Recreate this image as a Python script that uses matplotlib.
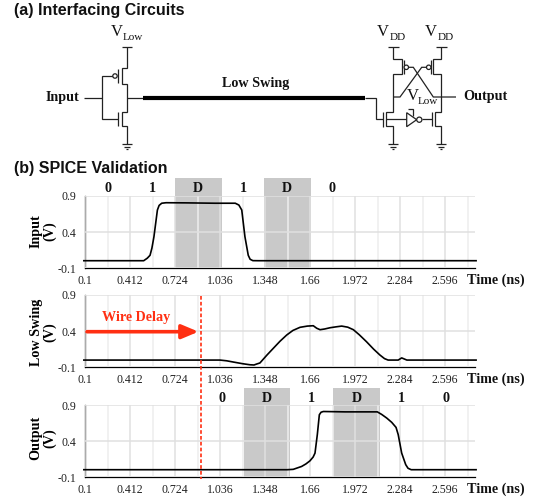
import matplotlib
matplotlib.use("Agg")
import matplotlib.pyplot as plt
from matplotlib.patches import Circle, Polygon

# Waveforms (time in ns, voltage in V)
input_t = [0.09, 0.505, 0.53, 0.549, 0.562, 0.576, 0.6, 0.612, 0.63, 0.66, 0.8, 1.0, 1.14, 1.165, 1.185, 1.207, 1.23,
           1.243, 1.262, 1.3, 1.6, 2.0, 2.4, 2.81]
input_v = [0.005, 0.005, 0.04, 0.08, 0.18, 0.337, 0.706, 0.77, 0.8, 0.807, 0.805, 0.8, 0.8, 0.775, 0.706, 0.337, 0.08,
           0.025, 0.006, 0.005, 0.005, 0.005, 0.005, 0.005]

swing_t = [0.09, 0.5, 1.034, 1.08, 1.126, 1.19, 1.242, 1.27, 1.288, 1.311, 1.36, 1.404, 1.45, 1.497, 1.54, 1.589, 1.64,
           1.681, 1.705, 1.728, 1.76, 1.797, 1.84, 1.878, 1.92, 1.959, 2.0, 2.05, 2.1, 2.143, 2.175, 2.2, 2.27, 2.294,
           2.33, 2.6, 2.81]
swing_v = [0.0, 0.0, 0.0, -0.01, -0.027, -0.05, -0.065, -0.068, -0.055, -0.04, 0.07, 0.163, 0.26, 0.347, 0.41, 0.453,
           0.47, 0.475, 0.44, 0.42, 0.43, 0.447, 0.46, 0.47, 0.455, 0.42, 0.35, 0.254, 0.15, 0.07, 0.02, 0.0, 0.0, 0.03,
           0.0, 0.0, 0.0]

output_t = [0.09, 1.0, 1.5, 1.542, 1.6, 1.63, 1.658, 1.68, 1.693, 1.709, 1.723, 1.735, 1.751, 1.9, 2.125, 2.155, 2.19,
            2.225, 2.255, 2.27, 2.294, 2.322, 2.338, 2.36, 2.6, 2.81]
output_v = [0.005, 0.005, 0.005, 0.01, 0.05, 0.085, 0.128, 0.18, 0.235, 0.49, 0.765, 0.8, 0.81, 0.805, 0.805, 0.77, 0.72,
            0.66, 0.59, 0.49, 0.235, 0.075, 0.025, 0.005, 0.005, 0.005]

# Tick labels
x_ticks = [0.1, 0.412, 0.724, 1.036, 1.348, 1.66, 1.972, 2.284, 2.596]
x_tick_labels = ["0.1", "0.412", "0.724", "1.036", "1.348", "1.66", "1.972", "2.284", "2.596"]
x_minor = [0.256, 0.568, 0.88, 1.192, 1.504, 1.816, 2.128, 2.44, 2.752]
y_ticks = [-0.1, 0.4, 0.9]
y_tick_labels = ["-0.1", "0.4", "0.9"]

# Bit labels and D windows
bits_input = ["0", "1", "D", "1", "D", "0"]
bits_input_t = [0.257, 0.567, 0.881, 1.193, 1.499, 1.811]
bands_input = [(0.722, 1.046), (1.341, 1.667)]
bits_output = ["0", "D", "1", "D", "1", "0"]
bits_output_t = [1.048, 1.36, 1.67, 1.982, 2.294, 2.6]
bands_output = [(1.199, 1.523), (1.817, 2.141)]

serif = "Liberation Serif"
sans = "Liberation Sans"
W, H = 540, 500
left, right = 85.3, 475.0
dark = "#222222"
red = "#ff2f12"
grey = "#c9c9c9"

fig = plt.figure(figsize=(W / 100, H / 100), dpi=100)


def make_axes(top, bottom, t, v, label, label_y):
    ax = fig.add_axes([left / W, 1 - bottom / H, (right - left) / W, (bottom - top) / H])
    ax.set_xlim(0.1, 0.1 + (right - left) / 144.2)
    ax.set_ylim(-0.1, 0.9)
    ax.set_xticks(x_ticks)
    ax.set_xticklabels(x_tick_labels, family=serif, fontsize=8.6, color=dark)
    ax.set_yticks(y_ticks)
    ax.set_yticklabels(y_tick_labels, family=serif, fontsize=8.6, color=dark)
    ax.set_xticks(x_minor, minor=True)
    ax.tick_params(axis="x", which="major", length=0, pad=4.5)
    ax.tick_params(axis="y", length=0, pad=6.5)
    ax.tick_params(axis="x", which="minor", length=0)
    ax.grid(True, which="major", color="#e0e0e0", lw=1.1)
    ax.grid(True, which="minor", axis="x", color="#eeeeee", lw=1.1)
    ax.set_axisbelow(False)
    for s in ["top", "right"]:
        ax.spines[s].set_visible(False)
    ax.spines["left"].set_linewidth(0.9)
    ax.spines["bottom"].set_linewidth(0.9)
    ax.plot(t, v, color="black", lw=1.2, clip_on=False, zorder=5)
    ax.set_ylabel(label, family=serif, fontweight="bold", fontsize=10.2, linespacing=1.0)
    ax.yaxis.set_label_coords((56 - left) / (right - left), (bottom - label_y) / (bottom - top))
    ax.text((467 - left) / (right - left), -0.165, "Time (ns)", transform=ax.transAxes, family=serif,
            fontweight="bold", fontsize=10.2, color="#111111", ha="left", va="center", clip_on=False)
    return ax


ax1 = make_axes(196, 268.3, input_t, input_v, "Input\n(V)", 231)
ax2 = make_axes(295, 367.3, swing_t, swing_v, "Low Swing\n(V)", 332)
ax3 = make_axes(405, 477.3, output_t, output_v, "Output\n(V)", 438)

for a, b in bands_input:
    ax1.axvspan(a, b, ymin=0, ymax=1.25, color=grey, lw=0, clip_on=False, zorder=0.5)
for a, b in bands_output:
    ax3.axvspan(a, b, ymin=0, ymax=1.23, color=grey, lw=0, clip_on=False, zorder=0.5)

for b, t in zip(bits_input, bits_input_t):
    ax1.text(t, 1.005, b, family=serif, fontweight="bold", fontsize=10.2, color="#111111", ha="center", va="center")
for b, t in zip(bits_output, bits_output_t):
    ax3.text(t, 0.995, b, family=serif, fontweight="bold", fontsize=10.2, color="#111111", ha="center", va="center")

# Overlay in pixel coordinates: schematic, titles, wire delay marker
ov = fig.add_axes([0, 0, 1, 1], zorder=10)
ov.set_xlim(0, W)
ov.set_ylim(H, 0)
ov.axis("off")
ov.patch.set_alpha(0)


def wire(*pts, lw=0.9, color=dark):
    ov.plot([p[0] for p in pts], [p[1] for p in pts], color=color, lw=lw, solid_capstyle="butt",
            solid_joinstyle="miter")


def ground(x, y):
    wire((x - 5, y), (x + 5, y))
    wire((x - 3, y + 2.5), (x + 3, y + 2.5))
    wire((x - 1, y + 5), (x + 1, y + 5))


def bubble(x, y, r=2.2):
    ov.add_patch(Circle((x, y), r, fc="white", ec=dark, lw=0.9, zorder=3))


def serif_text(x, y, s, size=10.2, bold=True, color="#111111"):
    ov.text(x, y, s, family=serif, fontweight="bold" if bold else "normal", fontsize=size, color=color,
            ha="center", va="center")


ov.text(14, 11, "(a) Interfacing Circuits", family=sans, fontweight="bold", fontsize=11.5, color="#111111", va="center")
ov.text(14, 168, "(b) SPICE Validation", family=sans, fontweight="bold", fontsize=11.5, color="#111111", va="center")

# Driver inverter
wire((122, 47.3), (132, 47.3))
wire((127, 47.3), (127, 68), (121.5, 68), (121.5, 84), (127, 84), (127, 112), (121.5, 112), (121.5, 126), (127, 126), (127, 144))
wire((118, 69), (118, 83))
wire((118, 112), (118, 126))
bubble(115, 76)
wire((112.8, 76), (101.7, 76), (101.7, 118.7), (118, 118.7))
wire((84, 97.7), (101.7, 97.7))
wire((127, 97.7), (143, 97.7))
ground(127, 144)
serif_text(117, 31.5, "V", 12, False)
serif_text(133, 38, "Low", 8, False)
serif_text(62, 97, "Input")

# Low swing wire
wire((143, 97.7), (365, 97.7), lw=3.0, color="black")
serif_text(256, 83, "Low Swing")

# Receiver
wire((365, 97.7), (375.7, 97.7), (375.7, 119.3), (383.3, 119.3))
wire((383.3, 112.3), (383.3, 126.7))
wire((388.3, 47.3), (399, 47.3))
wire((393.3, 47.3), (393.3, 59.3), (401.7, 59.3), (401.7, 74), (393.3, 74), (393.3, 112), (385.7, 112), (385.7, 126),
     (393.3, 126), (393.3, 144))
wire((404, 59.5), (404, 74))
ground(393.3, 144)
bubble(406.3, 67.3)
wire((436, 47.3), (446.7, 47.3))
wire((441, 47.3), (441, 59.3), (433.3, 59.3), (433.3, 74), (441, 74), (441, 112), (435, 112), (435, 126), (441, 126),
     (441, 144))
wire((431, 59.5), (431, 74))
ground(441, 144)
bubble(428.7, 67.3)
wire((408.5, 67.3), (413.3, 67.3), (433.3, 97), (456, 97))
wire((426.5, 67.3), (421.7, 67.3), (400, 97), (393.3, 97))
wire((432.3, 112), (432.3, 126))
wire((422, 119.3), (432.3, 119.3))
wire((386, 119.3), (406.7, 119.3))
ov.add_patch(Polygon([(406.7, 112.7), (406.7, 126.7), (416.7, 119.7)], closed=True, fc="white", ec=dark, lw=0.9, zorder=3))
bubble(419.3, 119.7, 2.6)
wire((407.7, 109.3), (413.3, 109.3), (413.3, 115.5))
serif_text(383, 31.5, "V", 12, False)
serif_text(398, 37.7, "DD", 8, False)
serif_text(431, 31.5, "V", 12, False)
serif_text(445.7, 37.7, "DD", 8, False)
serif_text(413, 95.5, "V", 12, False)
serif_text(428, 102, "Low", 8, False)
serif_text(485, 96.7, "Output")

# Wire delay marker
ov.plot([200.7, 200.7], [296, 479], color=red, lw=1.2, linestyle=(0, (2.2, 1.3)))
ov.annotate("", xy=(198.5, 331.7), xytext=(87, 331.7),
            arrowprops=dict(arrowstyle="-|>,head_length=1.0,head_width=0.42", color=red, lw=2.6, shrinkA=0, shrinkB=0))
serif_text(136, 318, "Wire Delay", 10.2, True, red)

fig.savefig("out.png", dpi=100)
